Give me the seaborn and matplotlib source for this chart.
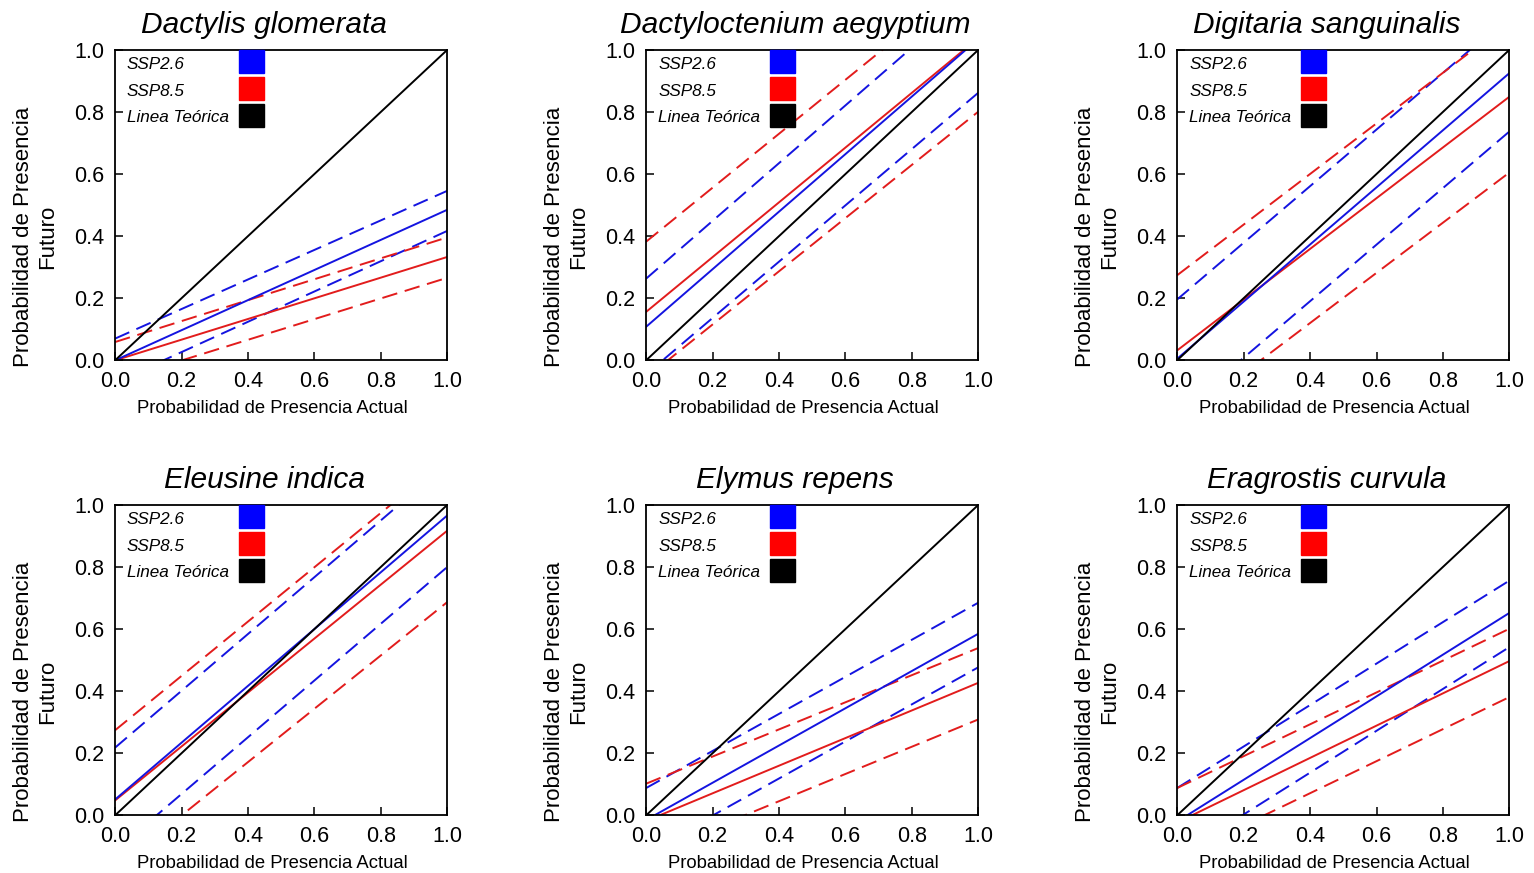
import matplotlib.pyplot as plt
import seaborn as sns
import numpy as np
from matplotlib.patches import Rectangle

species = ['Dactylis glomerata', 'Dactyloctenium aegyptium', 'Digitaria sanguinalis',
           'Eleusine indica', 'Elymus repens', 'Eragrostis curvula']
x_ends = [0.0, 1.0]

# fitted lines: intercept (a) and slope (b) for each species
ssp26_a = [0.000, 0.108, 0.005, 0.051, -0.015, -0.020]
ssp26_b = [0.485, 0.927, 0.920, 0.915, 0.600, 0.672]
ssp26_up_a = [0.070, 0.263, 0.196, 0.218, 0.088, 0.088]
ssp26_up_b = [0.476, 0.930, 0.912, 0.915, 0.597, 0.668]
ssp26_lo_a = [-0.071, -0.045, -0.174, -0.114, -0.120, -0.132]
ssp26_lo_b = [0.488, 0.907, 0.911, 0.914, 0.597, 0.674]

ssp85_a = [0.000, 0.156, 0.032, 0.048, -0.018, -0.023]
ssp85_b = [0.333, 0.882, 0.817, 0.869, 0.445, 0.520]
ssp85_up_a = [0.059, 0.382, 0.274, 0.274, 0.102, 0.088]
ssp85_up_b = [0.337, 0.869, 0.815, 0.875, 0.437, 0.513]
ssp85_lo_a = [-0.067, -0.056, -0.203, -0.172, -0.130, -0.135]
ssp85_lo_b = [0.333, 0.857, 0.808, 0.859, 0.439, 0.516]

theory_a = [0, 0, 0, 0, 0, 0]
theory_b = [1, 1, 1, 1, 1, 1]

legend_labels = ['SSP2.6', 'SSP8.5', 'Linea Teórica']

blue = '#1414e0'
red = '#e21c1c'
dash = (0, (8, 4))

sns.set_style('ticks')
plt.rcParams['font.family'] = ['Liberation Sans', 'DejaVu Sans']
plt.rcParams['text.color'] = 'black'
plt.rcParams['axes.labelcolor'] = 'black'

fig, axes = plt.subplots(2, 3, figsize=(15.34, 8.73), dpi=100)
fig.subplots_adjust(left=0.075, right=0.984, top=0.943, bottom=0.066,
                    wspace=0.598, hspace=0.465)

series = [
    (ssp26_up_a, ssp26_up_b, blue, dash),
    (ssp26_lo_a, ssp26_lo_b, blue, dash),
    (ssp85_up_a, ssp85_up_b, red, dash),
    (ssp85_lo_a, ssp85_lo_b, red, dash),
    (ssp85_a, ssp85_b, red, '-'),
    (ssp26_a, ssp26_b, blue, '-'),
    (theory_a, theory_b, 'black', '-'),
]

for i, ax in enumerate(axes.flat):
    for a, b, color, ls in series:
        y = a[i] + b[i] * np.array(x_ends)
        sns.lineplot(x=x_ends, y=y, ax=ax, color=color, linestyle=ls, lw=1.4)

    ax.set_xlim(0, 1)
    ax.set_ylim(0, 1)
    ticks = np.arange(0, 1.01, 0.2)
    ax.set_xticks(ticks)
    ax.set_yticks(ticks)
    ax.set_xticklabels([f'{t:.1f}' for t in ticks])
    ax.set_yticklabels([f'{t:.1f}' for t in ticks])
    ax.tick_params(direction='in', length=6, width=1.1, labelsize=15.5,
                   colors='black', pad=8)
    for sp in ax.spines.values():
        sp.set_color('black')
        sp.set_linewidth(1.3)

    ax.set_title(species[i], style='italic', fontsize=21.5, pad=12, x=0.449)
    ax.set_xlabel('Probabilidad de Presencia Actual', fontsize=13.3)
    ax.xaxis.set_label_coords(0.473, -0.128)
    ax.set_ylabel('Probabilidad de Presencia\nFuturo', fontsize=16)
    ax.yaxis.set_label_coords(-0.172, 0.397)

    # legend: labels with colour squares on the right
    for k, (lab, col) in enumerate(zip(legend_labels, ['#0000ff', '#ff0000', 'black'])):
        ax.text(0.036, 0.952 - k * 0.085, lab, transform=ax.transAxes,
                style='italic', fontsize=12.3, va='center', ha='left')
        ax.add_patch(Rectangle((0.373, 0.926 - k * 0.087), 0.075, 0.074,
                               transform=ax.transAxes, color=col,
                               clip_on=False, zorder=5))

fig.savefig('out.png', dpi=100)
